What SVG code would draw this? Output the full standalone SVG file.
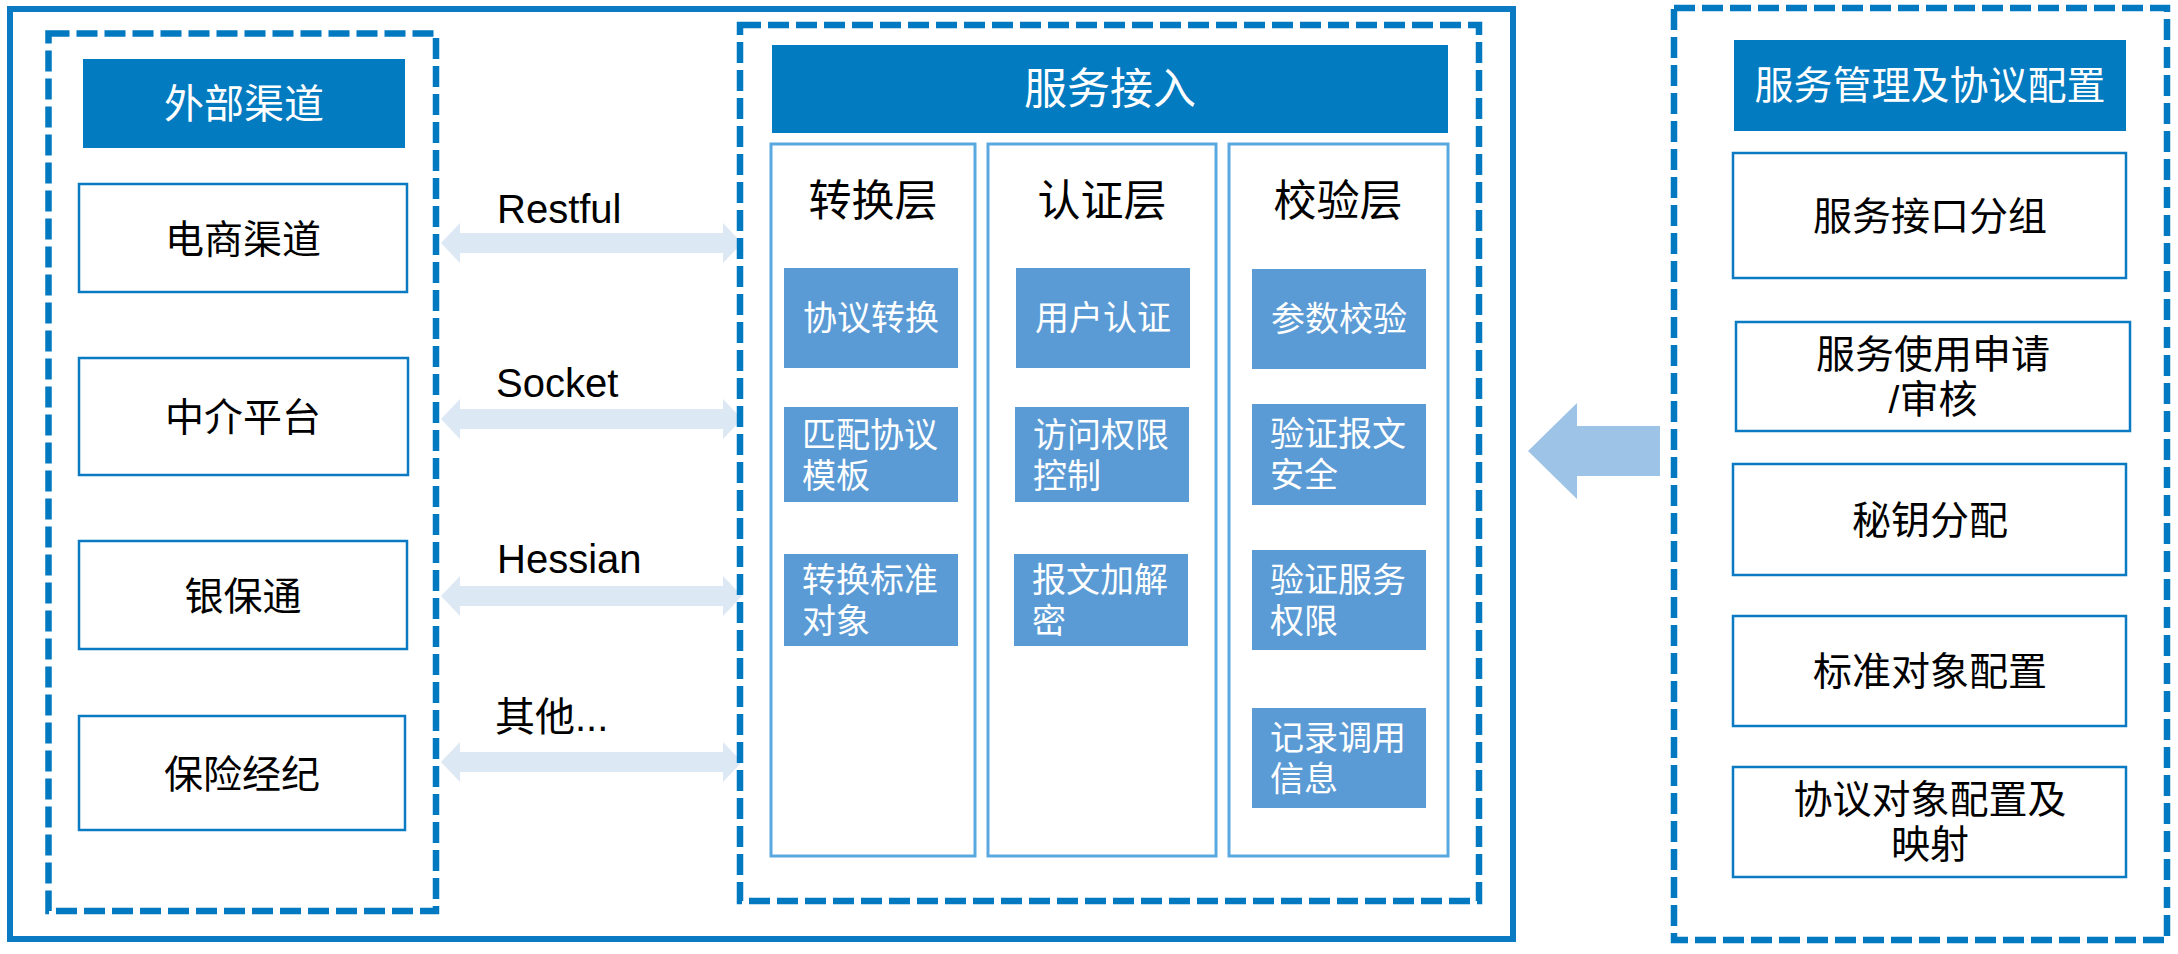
<svg xmlns="http://www.w3.org/2000/svg" width="2178" height="954" viewBox="0 0 2178 954">
<defs>
<style>
text{font-family:"Liberation Sans","Noto Sans CJK SC",sans-serif;dominant-baseline:central}
.outer{fill:none;stroke:#0A7BC2;stroke-width:6}
.dash{fill:none;stroke:#0079C1;stroke-width:6.5;stroke-dasharray:21 7}
.hdr{fill:#037BC1}
.box{fill:#fff;stroke:#0A7BC2;stroke-width:2.5}
.col{fill:#fff;stroke:#5AA8E0;stroke-width:3}
.blk{fill:#5B9BD5}
.ht{fill:#fff;font-size:43px;text-anchor:middle}
.bt{fill:#000;font-size:39px;text-anchor:middle}
.ct{fill:#000;font-size:43px;text-anchor:middle}
.wt{fill:#fff;font-size:34px}
.lbl{fill:#000;font-size:40px}
.darr{fill:#DDE8F5}
</style>
<path id="dbl" d="M441,0 L460,-20 L460,-10 L723,-10 L723,-20 L742,0 L723,20 L723,10 L460,10 L460,20 Z"/>
</defs>
<rect class="outer" x="10" y="9" width="1503" height="930"/>

<g id="external">
<rect class="dash" x="48.5" y="33.5" width="387.5" height="877.5"/>
<g id="ext-header"><rect class="hdr" x="83" y="59" width="322" height="89"/><text class="ht" x="244" y="104" style="font-size:40px">外部渠道</text></g>
<g id="ext-ecommerce"><rect class="box" x="79" y="184" width="328" height="108"/><text class="bt" x="243" y="239">电商渠道</text></g>
<g id="ext-agency"><rect class="box" x="79" y="358" width="329" height="117"/><text class="bt" x="243" y="417">中介平台</text></g>
<g id="ext-bank"><rect class="box" x="79" y="541" width="328" height="108"/><text class="bt" x="243" y="596">银保通</text></g>
<g id="ext-broker"><rect class="box" x="79" y="716" width="326" height="114"/><text class="bt" x="242" y="774">保险经纪</text></g>
</g>

<g id="connectors">
<use href="#dbl" class="darr" transform="translate(0,243)"/>
<use href="#dbl" class="darr" transform="translate(0,419)"/>
<use href="#dbl" class="darr" transform="translate(0,596)"/>
<use href="#dbl" class="darr" transform="translate(0,762)"/>
<text class="lbl" x="497" y="209">Restful</text>
<text class="lbl" x="496" y="383">Socket</text>
<text class="lbl" x="497" y="559">Hessian</text>
<text class="lbl" x="495" y="717">其他...</text>
<polygon fill="#9DC3E6" points="1528,451 1577,403 1577,426 1660,426 1660,476 1577,476 1577,499"/>
</g>

<g id="access">
<rect class="dash" x="740" y="25" width="739" height="876"/>
<g id="access-header"><rect class="hdr" x="772" y="45" width="676" height="88"/><text class="ht" x="1110" y="89">服务接入</text></g>
<g id="col-convert">
<rect class="col" x="771" y="144" width="204" height="712"/>
<text class="ct" x="873" y="201">转换层</text>
<rect class="blk" x="784" y="268" width="174" height="100"/><text class="wt" x="871" y="318" text-anchor="middle">协议转换</text>
<rect class="blk" x="784" y="407" width="174" height="95"/><text class="wt" x="802" y="435">匹配协议</text><text class="wt" x="802" y="476">模板</text>
<rect class="blk" x="784" y="554" width="174" height="92"/><text class="wt" x="802" y="580">转换标准</text><text class="wt" x="802" y="621">对象</text>
</g>
<g id="col-auth">
<rect class="col" x="988" y="144" width="228" height="712"/>
<text class="ct" x="1102" y="201">认证层</text>
<rect class="blk" x="1016" y="268" width="174" height="100"/><text class="wt" x="1103" y="318" text-anchor="middle">用户认证</text>
<rect class="blk" x="1015" y="407" width="174" height="95"/><text class="wt" x="1033" y="435">访问权限</text><text class="wt" x="1033" y="476">控制</text>
<rect class="blk" x="1014" y="554" width="174" height="92"/><text class="wt" x="1032" y="580">报文加解</text><text class="wt" x="1032" y="621">密</text>
</g>
<g id="col-verify">
<rect class="col" x="1229" y="144" width="219" height="712"/>
<text class="ct" x="1338" y="201">校验层</text>
<rect class="blk" x="1252" y="269" width="174" height="100"/><text class="wt" x="1339" y="319" text-anchor="middle">参数校验</text>
<rect class="blk" x="1252" y="404" width="174" height="101"/><text class="wt" x="1270" y="434">验证报文</text><text class="wt" x="1270" y="475">安全</text>
<rect class="blk" x="1252" y="550" width="174" height="100"/><text class="wt" x="1270" y="580">验证服务</text><text class="wt" x="1270" y="621">权限</text>
<rect class="blk" x="1252" y="708" width="174" height="100"/><text class="wt" x="1270" y="738">记录调用</text><text class="wt" x="1270" y="779">信息</text>
</g>
</g>

<g id="management">
<rect class="dash" x="1674" y="8" width="493" height="932"/>
<g id="mgmt-header"><rect class="hdr" x="1734" y="40" width="392" height="91"/><text class="ht" x="1930" y="85" style="font-size:39px">服务管理及协议配置</text></g>
<g id="mgmt-group"><rect class="box" x="1733" y="153" width="393" height="125"/><text class="bt" x="1930" y="216">服务接口分组</text></g>
<g id="mgmt-apply"><rect class="box" x="1736" y="322" width="394" height="109"/><text class="bt" x="1933" y="354">服务使用申请</text><text class="bt" x="1933" y="399">/审核</text></g>
<g id="mgmt-key"><rect class="box" x="1733" y="464" width="393" height="111"/><text class="bt" x="1930" y="520">秘钥分配</text></g>
<g id="mgmt-std"><rect class="box" x="1733" y="616" width="393" height="110"/><text class="bt" x="1930" y="671">标准对象配置</text></g>
<g id="mgmt-proto"><rect class="box" x="1733" y="767" width="393" height="110"/><text class="bt" x="1930" y="799">协议对象配置及</text><text class="bt" x="1930" y="844">映射</text></g>
</g>
</svg>
